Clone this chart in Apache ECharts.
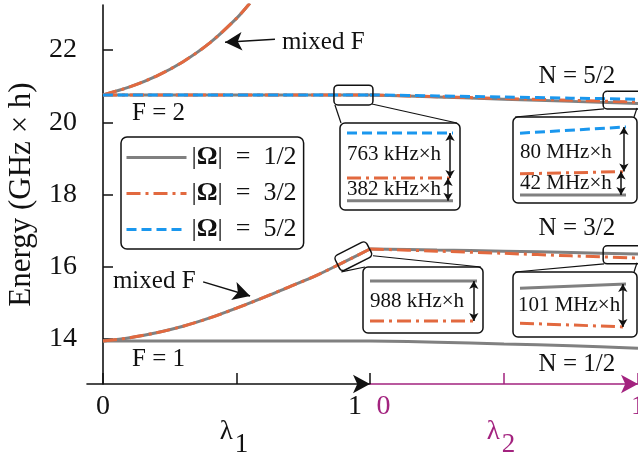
<!DOCTYPE html>
<html><head><meta charset="utf-8">
<script src="https://cdn.jsdelivr.net/npm/echarts@6/dist/echarts.min.js"></script>
<style>html,body{margin:0;padding:0;background:#fff}#c{width:638px;height:457px}</style>
</head><body><div id="c"></div>
<script>
// ---------------- data ----------------
const lambda1Grid = [0, 0.1, 0.2, 0.3, 0.4, 0.5, 0.6, 0.7, 0.8, 0.9, 1.0];
const lowerMixedE = [13.94, 14.03, 14.17, 14.35, 14.58, 14.85, 15.14, 15.45, 15.76, 16.12, 16.49];
const upperMixedX = [0, 0.1, 0.2, 0.3, 0.4, 0.5, 0.55];
const upperMixedE = [20.76, 20.98, 21.28, 21.68, 22.20, 22.88, 23.30];
const flatX = [0, 1];
const f1Level = [13.94, 13.94];
const f2Level = [20.76, 20.76];
const lambda2Grid = [0, 0.25, 0.5, 0.75, 1.0];
const n12Grey = [13.94, 13.91, 13.86, 13.81, 13.74];
const n32Grey = [16.49, 16.46, 16.43, 16.39, 16.35];
const n32Orange = [16.49, 16.43, 16.37, 16.30, 16.24];
const n52Grey = [20.76, 20.70, 20.64, 20.58, 20.52];
const n52Orange = [20.76, 20.71, 20.66, 20.61, 20.56];
const n52Blue = [20.76, 20.73, 20.70, 20.67, 20.64];
// insets (offsets; kHz for A,C and MHz for B,D)
const insetX = [0, 1];
const insetABlue = [763, 763], insetAOrange = [0, 0], insetAGrey = [-382, -382];
const insetBBlue = [111, 122], insetBOrange = [38, 42], insetBGrey = [0, 0];
const insetCGrey = [988, 988], insetCOrange = [0, 0];
const insetDGrey = [82, 92], insetDOrange = [0, -9];
// ticks / labels
const yTicks = [14, 16, 18, 20, 22];
const x1Ticks = [0, 0.5, 1];
const x1Labels = [0, 1];
const x2Ticks = [0.5, 1];
const x2Labels = [0, 1];
const omegaNames = ['|Ω| = 1/2', '|Ω| = 3/2', '|Ω| = 5/2'];

// ---------------- style ----------------
const SERIF = '"Liberation Serif", "Times New Roman", Times, "DejaVu Serif", serif';
const INK = '#111';
const GREY = '#808080', ORANGE = '#e2693f', BLUE = '#1a97ee', MAG = '#a3237f';
const stGrey = {color: GREY, width: 3, type: 'solid'};
const stOrange = {color: ORANGE, width: 3, type: [14, 5, 3, 5]};
const stBlue = {color: BLUE, width: 3, type: [10, 5]};

function line(name, gi, xs, ys, st, extra) {
  return Object.assign({
    type: 'line', name: name, xAxisIndex: gi, yAxisIndex: gi,
    data: xs.map((x, i) => [x, ys[i]]),
    symbol: 'none', showSymbol: false, smooth: 0.3, silent: true, animation: false,
    itemStyle: {color: st.color}, lineStyle: st, emphasis: {disabled: true}
  }, extra || {});
}
function arrowML(pairs, both, size) {
  return {
    silent: true, animation: false,
    symbol: both ? ['arrow', 'arrow'] : ['none', 'arrow'],
    symbolSize: size,
    lineStyle: {color: INK, width: 1.5, type: 'solid'},
    label: {show: false}, emphasis: {disabled: true},
    data: pairs.map(p => [{coord: p[0]}, {coord: p[1]}])
  };
}

const mainArrows = [
  [[0.644, 22.30], [0.457, 22.22]],
  [[0.375, 15.58], [0.551, 15.19]]
];

const series = [
  line(omegaNames[0], 0, flatX, f1Level, stGrey, {markLine: arrowML(mainArrows, false, [14, 17])}),
  line(omegaNames[0], 0, lambda1Grid, lowerMixedE, stGrey),
  line(omegaNames[0], 0, flatX, f2Level, stGrey),
  line(omegaNames[0], 0, upperMixedX, upperMixedE, stGrey),
  line(omegaNames[0], 1, lambda2Grid, n12Grey, stGrey),
  line(omegaNames[0], 1, lambda2Grid, n32Grey, stGrey),
  line(omegaNames[0], 1, lambda2Grid, n52Grey, stGrey),
  line(omegaNames[1], 0, lambda1Grid, lowerMixedE, stOrange),
  line(omegaNames[1], 0, flatX, f2Level, stOrange),
  line(omegaNames[1], 0, upperMixedX, upperMixedE, stOrange),
  line(omegaNames[1], 1, lambda2Grid, n32Orange, stOrange),
  line(omegaNames[1], 1, lambda2Grid, n52Orange, stOrange),
  line(omegaNames[2], 0, flatX, f2Level, stBlue),
  line(omegaNames[2], 1, lambda2Grid, n52Blue, stBlue),
  line('insetA', 2, insetX, insetAGrey, stGrey, {smooth: false, clip: false,
    markLine: arrowML([[[0.972, 763], [0.972, 0]], [[0.953, 0], [0.953, -382]]], true, [7, 8])}),
  line('insetA', 2, insetX, insetAOrange, stOrange, {smooth: false, clip: false}),
  line('insetA', 2, insetX, insetABlue, stBlue, {smooth: false, clip: false}),
  line('insetB', 3, insetX, insetBGrey, stGrey, {smooth: false, clip: false,
    markLine: arrowML([[[0.98, 122], [0.98, 42]], [[0.953, 42], [0.953, 0]]], true, [7, 8])}),
  line('insetB', 3, insetX, insetBOrange, stOrange, {smooth: false, clip: false}),
  line('insetB', 3, insetX, insetBBlue, stBlue, {smooth: false, clip: false}),
  line('insetC', 4, insetX, insetCGrey, stGrey, {smooth: false, clip: false,
    markLine: arrowML([[[0.97, 988], [0.97, 0]]], true, [7, 8])}),
  line('insetC', 4, insetX, insetCOrange, stOrange, {smooth: false, clip: false}),
  line('insetD', 5, insetX, insetDGrey, stGrey, {smooth: false, clip: false,
    markLine: arrowML([[[0.97, 92], [0.97, -9]]], true, [7, 8])}),
  line('insetD', 5, insetX, insetDOrange, stOrange, {smooth: false, clip: false})
];

const hiddenX = gi => ({gridIndex: gi, type: 'value', min: 0, max: 1, show: false});
const hiddenY = gi => ({gridIndex: gi, type: 'value', min: 'dataMin', max: 'dataMax', show: false, scale: true});
const numStyle = {fontFamily: SERIF, fontSize: 28, color: INK};
const G = (o) => Object.assign({containLabel: false, outerBoundsMode: 'none'}, o);
const lamRich = c => ({
  l: {fontFamily: SERIF, fontSize: 27, color: c, padding: [0, 0, 13, 0]},
  s: {fontFamily: SERIF, fontSize: 27, color: c, padding: [13, 0, 0, 2]}
});

const option = {
  backgroundColor: '#fff',
  animation: false,
  color: [GREY, ORANGE, BLUE],
  textStyle: {fontFamily: SERIF},
  grid: [
    G({left: 87, top: 5, width: 283, height: 379}),
    G({left: 370, top: 5, width: 268, height: 379}),
    G({left: 347, top: 133, width: 106, height: 67.7}),
    G({left: 520, top: 127, width: 106, height: 68}),
    G({left: 370, top: 281, width: 107, height: 40}),
    G({left: 520, top: 284, width: 106, height: 43})
  ],
  xAxis: [
    {gridIndex: 0, type: 'value', min: -0.06, max: 1,
      axisLine: {show: true, lineStyle: {color: INK, width: 1.6}, symbol: ['none', 'arrow'], symbolSize: [14, 17]},
      axisTick: {show: true, inside: true, length: 11, customValues: x1Ticks, lineStyle: {color: INK, width: 1.5}},
      axisLabel: {customValues: x1Labels, margin: 9, ...numStyle,
        formatter: v => v === 1 ? '{r|1}' : String(v),
        rich: {r: {...numStyle, padding: [0, 30, 0, 0]}}},
      splitLine: {show: false},
      name: '{l|λ}{s|1}', nameLocation: 'middle', nameGap: 34, nameMoveOverlap: false,
      nameTextStyle: {color: INK, padding: [0, 0, 0, 11], rich: lamRich(INK)}
    },
    {gridIndex: 1, type: 'value', min: 0, max: 1,
      axisLine: {show: true, lineStyle: {color: MAG, width: 1.6}, symbol: ['none', 'arrow'], symbolSize: [14, 17]},
      axisTick: {show: true, inside: true, length: 11, customValues: x2Ticks, lineStyle: {color: MAG, width: 1.5}},
      axisLabel: {customValues: x2Labels, margin: 9, ...numStyle, color: MAG,
        formatter: v => v === 0 ? '{l|0}' : String(v),
        rich: {l: {...numStyle, color: MAG, padding: [0, 0, 0, 27]}}},
      splitLine: {show: false},
      name: '{l|λ}{s|2}', nameLocation: 'middle', nameGap: 34, nameMoveOverlap: false,
      nameTextStyle: {color: MAG, padding: [0, 6, 0, 0], rich: lamRich(MAG)}
    },
    hiddenX(2), hiddenX(3), hiddenX(4), hiddenX(5)
  ],
  yAxis: [
    {gridIndex: 0, type: 'value', min: 12.75, max: 23.25,
      axisLine: {show: true, lineStyle: {color: INK, width: 1.6}},
      axisTick: {show: true, inside: true, length: 10, customValues: yTicks, lineStyle: {color: INK, width: 1.5}},
      axisLabel: {customValues: yTicks, margin: 10, ...numStyle},
      splitLine: {show: false},
      name: 'Energy (GHz × h)', nameLocation: 'middle', nameGap: 50, nameMoveOverlap: false,
      nameTextStyle: {fontFamily: SERIF, fontSize: 31, color: INK}
    },
    {gridIndex: 1, type: 'value', min: 12.75, max: 23.25, show: false},
    hiddenY(2), hiddenY(3), hiddenY(4), hiddenY(5)
  ],
  legend: {
    orient: 'vertical', left: 121, top: 137,
    data: omegaNames, selectedMode: false,
    itemWidth: 60, itemHeight: 14, itemGap: 9,
    padding: [7, 7, 6, 4],
    borderColor: INK, borderWidth: 1.5, borderRadius: 6, backgroundColor: '#fff',
    lineStyle: {width: 3},
    itemStyle: {opacity: 0},
    textStyle: {fontFamily: SERIF, fontSize: 26, color: INK, lineHeight: 27,
      rich: {b: {fontFamily: SERIF, fontSize: 26, fontWeight: 'bold', color: INK, lineHeight: 27}}},
    formatter: n => n.replace('Ω', '{b|Ω}').replace(' = ', '\u2002=\u2002')
  },
  series: series
};

const chart = echarts.init(document.getElementById('c'), null, {renderer: 'canvas', width: 638, height: 457});
chart.setOption(option);

// ---------------- annotations ----------------
const annotations = [
  {t: 'mixed F', g: 0, x: 0.67, y: 22.22},
  {t: 'mixed F', g: 0, x: 0.037, y: 15.58},
  {t: 'F = 2', g: 0, x: 0.109, y: 20.255},
  {t: 'F = 1', g: 0, x: 0.109, y: 13.42},
  {t: 'N = 5/2', g: 1, x: 0.629, y: 21.28},
  {t: 'N = 3/2', g: 1, x: 0.629, y: 17.05},
  {t: 'N = 1/2', g: 1, x: 0.629, y: 13.28}
];
const insetLabels = [
  {t: '763 kHz×h', g: 2, x: 0, y: 400},
  {t: '382 kHz×h', g: 2, x: 0, y: -190},
  {t: '80 MHz×h', g: 3, x: 0, y: 76},
  {t: '42 MHz×h', g: 3, x: 0, y: 21},
  {t: '988 kHz×h', g: 4, x: 0, y: 494},
  {t: '101 MHz×h', g: 5, x: -0.02, y: 41}
];
const srcA = {g: 0, x: [0.865, 1.011], y: [20.48, 21.03]};
const srcB = {g: 1, x: [0.87, 1.03], y: [20.37, 20.86]};
const srcD = {g: 1, x: [0.87, 1.03], y: [16.08, 16.58]};
const srcC = {g: 0, x: 0.9375, y: 16.29, w: 35.5, h: 17, rot: 27};
const boxes = [[340, 123, 120, 87], [513, 117, 124, 86], [363, 267, 120, 66], [513, 272, 124, 65]];

const P = (g, x, y) => chart.convertToPixel({gridIndex: g}, [x, y]);
const gfx = [];
function txt(p, t, size) {
  gfx.push({type: 'text', x: p[0], y: p[1], z: 50, silent: true,
    style: {text: t, font: size + 'px ' + SERIF, fill: INK,
      align: 'left', verticalAlign: 'middle', textAlign: 'left', textVerticalAlign: 'middle'}});
}
function seg(a, b) {
  gfx.push({type: 'line', z: 50, silent: true, shape: {x1: a[0], y1: a[1], x2: b[0], y2: b[1]},
    style: {stroke: INK, lineWidth: 1.2}});
}
function rrect(x, y, w, h, r) {
  gfx.push({type: 'rect', z: 50, silent: true, shape: {x: x, y: y, width: w, height: h, r: r},
    style: {fill: 'none', stroke: INK, lineWidth: 1.5}});
}
annotations.forEach(a => txt(P(a.g, a.x, a.y), a.t, 25));
insetLabels.forEach(a => txt(P(a.g, a.x, a.y), a.t, 21));
boxes.forEach(b => rrect(b[0], b[1], b[2], b[3], 5));
function srcRect(s) {
  const p1 = P(s.g, s.x[0], s.y[1]), p2 = P(s.g, s.x[1], s.y[0]);
  rrect(p1[0], p1[1], p2[0] - p1[0], p2[1] - p1[1], 4);
  return {l: p1[0], t: p1[1], r: p2[0], b: p2[1]};
}
const ra = srcRect(srcA), rb = srcRect(srcB), rd = srcRect(srcD);
seg([ra.l + 1, ra.b], [boxes[0][0] + 1, boxes[0][1]]);
seg([ra.r - 1, ra.b - 1], [boxes[0][0] + boxes[0][2] - 3, boxes[0][1]]);
seg([rb.l + 1, rb.b], [boxes[1][0] + 2, boxes[1][1]]);
seg([Math.min(rb.r, 637), rb.b - 1], [boxes[1][0] + boxes[1][2] - 3, boxes[1][1]]);
seg([rd.l + 1, rd.b], [boxes[3][0] + 2, boxes[3][1]]);
seg([Math.min(rd.r, 637), rd.b - 1], [boxes[3][0] + boxes[3][2] - 3, boxes[3][1]]);
const cC = P(srcC.g, srcC.x, srcC.y);
const th = srcC.rot * Math.PI / 180;
gfx.push({type: 'rect', z: 50, silent: true, x: cC[0], y: cC[1], rotation: th,
  shape: {x: -srcC.w / 2, y: -srcC.h / 2, width: srcC.w, height: srcC.h, r: 4},
  style: {fill: 'none', stroke: INK, lineWidth: 1.5}});
const rotP = (dx, dy) => [cC[0] + dx * Math.cos(th) + dy * Math.sin(th), cC[1] - dx * Math.sin(th) + dy * Math.cos(th)];
seg(rotP(srcC.w / 2, srcC.h / 2), [boxes[2][0] + boxes[2][2] - 2, boxes[2][1]]);
seg(rotP(-srcC.w / 2, srcC.h / 2), [boxes[2][0] + 2, boxes[2][1]]);
chart.setOption({graphic: gfx});
</script>
</body></html>
